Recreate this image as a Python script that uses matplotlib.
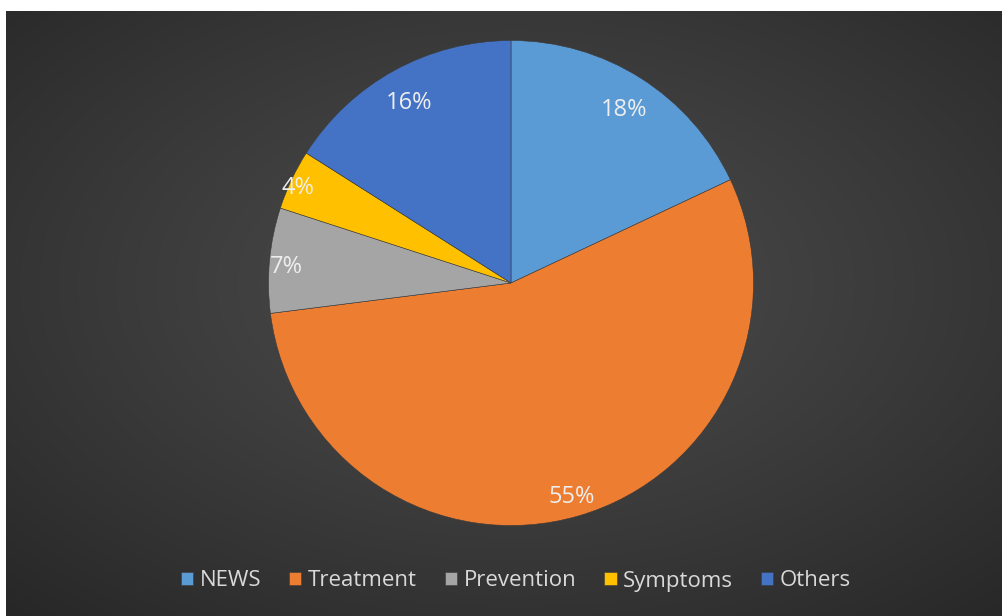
import numpy as np
import matplotlib
matplotlib.use("Agg")
import matplotlib.pyplot as plt

categories = ["NEWS", "Treatment", "Prevention", "Symptoms", "Others"]
values = [18, 55, 7, 4, 16]
colors = ["#5B9BD5", "#ED7D31", "#A5A5A5", "#FFC000", "#4472C4"]
label_dist = [0.87, 0.90, 0.93, 0.97, 0.87]

plt.rcParams['font.family'] = ['Open Sans', 'DejaVu Sans']

W, H = 1003, 616
fig = plt.figure(figsize=(W / 100, H / 100), dpi=100, facecolor="white")

# background panel with radial gradient
bx0, by_top = 6, 11
bg = fig.add_axes([bx0 / W, 0, (W - bx0) / W, (H - by_top) / H])
bg.set_axis_off()
ny, nx = 300, 500
yy, xx = np.mgrid[0:ny, 0:nx]
cx, cy = nx * 0.51, ny * 0.45
d = np.sqrt(((xx - cx) / nx) ** 2 + ((yy - cy) / ny) ** 2)
d = d / d.max()
c0, c1 = 0x4b / 255, 0x27 / 255
g = c0 + (c1 - c0) * d ** 1.2
img = np.dstack([g, g, g])
bg.imshow(img, aspect="auto", extent=[0, 1, 0, 1], interpolation="bilinear")
bg.set_xlim(0, 1)
bg.set_ylim(0, 1)

# pie axes
pcx, pcy, r = 511, 283, 242.5
ax = fig.add_axes([(pcx - r) / W, (H - pcy - r) / H, 2 * r / W, 2 * r / H])
ax.set_axis_off()
wedges, texts, autotexts = ax.pie(
    values, colors=colors, startangle=90, counterclock=False,
    autopct=lambda p: f"{p:.0f}%", pctdistance=0.89, radius=1,
    wedgeprops=dict(edgecolor="#3a3a3a", linewidth=0.4),
    textprops=dict(color="#eeeeee", fontsize=17))
for w, t, dist in zip(wedges, autotexts, label_dist):
    ang = np.deg2rad((w.theta1 + w.theta2) / 2)
    t.set_position((dist * np.cos(ang), dist * np.sin(ang) - 0.02))
ax.set_xlim(-1, 1)
ax.set_ylim(-1, 1)
ax.set_aspect("equal")

leg = fig.legend(wedges, categories, loc="center", ncol=5,
                 bbox_to_anchor=(516 / W, (H - 581) / H),
                 frameon=False, fontsize=16, handlelength=0.55, handleheight=0.55,
                 handletextpad=0.3, columnspacing=1.25, labelcolor="#d9d9d9")

fig.savefig("out.png", dpi=100, facecolor="white")
